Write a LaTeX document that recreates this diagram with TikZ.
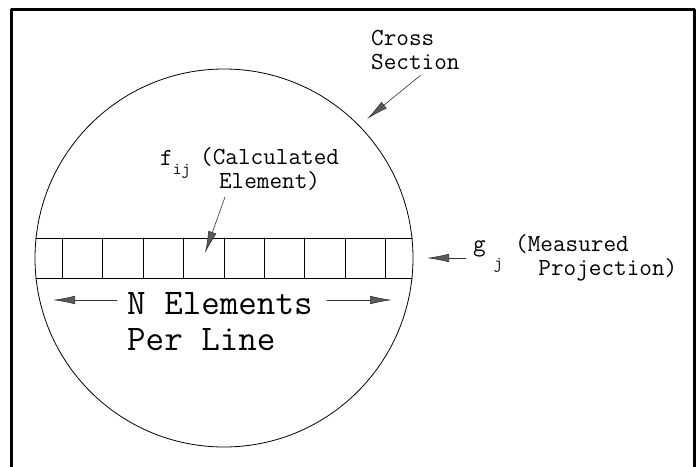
\documentclass[tikz,border=0pt]{standalone}
\usepackage{fontspec}
\usepackage{tikz}
\usetikzlibrary{arrows.meta,calc,positioning}
\newcommand{\lowsub}[2]{\raisebox{#1}{\fontsize{17}{17}\selectfont #2}}
\tikzset{
  lbl/.style    ={font=\ttfamily\fontsize{24.5}{24.5}\selectfont, inner sep=0pt},
  biglbl/.style ={font=\ttfamily\fontsize{36}{36}\selectfont, inner sep=0pt},
  pointer/.style={draw=black!80, line width=0.6pt,
                  -{Latex[length=22pt,width=8.5pt,fill=black!65]}},
  thinline/.style={line width=0.8pt},
}

\begin{document}
\begin{tikzpicture}[
  x=1pt,y=-1pt,
  line cap=round,
  line join=round
]
\useasboundingbox (0,0) rectangle (696,466);

% --- Frame (runs off the bottom) -------------------------------------------
\draw[line width=2.8pt] (11.2,480) -- (11.2,9.7) -- (694.5,9.7) -- (694.5,480);

% --- Cross section -----------------------------------------------------------
\node[circle, draw, thinline, minimum size=378pt, inner sep=0pt] (xsec) at (224,258) {};

% --- One line of elements ----------------------------------------------------
\draw[thinline] (36.1,238) -- (411.9,238);
\draw[thinline] (36.1,278) -- (411.9,278);
\foreach \k in {-4,...,4}
  \draw[thinline] (224+40.4*\k,238) -- (224+40.4*\k,278);

% --- Labels ------------------------------------------------------------------
\node[lbl, align=left, anchor=north west] (cross) at (371,30) {Cross\\Section};
\node[lbl, anchor=base west] (fij) at (160,165) {f\lowsub{-9pt}{ij}};
\node[lbl, align=center, anchor=north west] (calc) at (200,147) {(Calculated\\Element)};
\node[lbl, anchor=base west] (gj) at (473,251) {g\,\,\lowsub{-17pt}{j}};
\node[lbl, align=left, anchor=north west] (meas) at (515,234)
  {(Measured\\\hspace*{0.95em}Projection)};
\node[biglbl, align=left, anchor=north west] (nel) at (127,292) {N Elements\\Per Line};

% --- Pointers ----------------------------------------------------------------
\coordinate (crossTip) at (367,119);
\coordinate (cellTip)  at (205,253);
\coordinate (stripTip) at (427,258);
\coordinate (lineL)    at (53,300);
\coordinate (lineR)    at (392,300);

\draw[pointer] ([xshift=5pt,yshift=-5pt]cross.south) -- (crossTip);
\draw[pointer] ([xshift=25pt,yshift=-6pt]calc.south west) -- (cellTip);
\draw[pointer] ([xshift=-7pt,yshift=-7pt]gj.base west) -- (stripTip);
\draw[pointer] ([xshift=-10pt,yshift=-8pt]nel.north west) -- (lineL);
\draw[pointer] ([xshift=14pt,yshift=-8pt]nel.north east) -- (lineR);

\end{tikzpicture}
\end{document}
